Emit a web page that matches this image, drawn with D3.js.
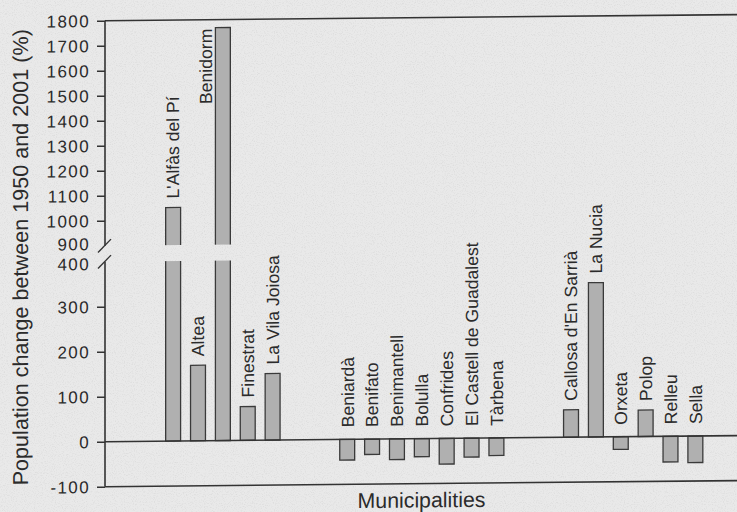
<!DOCTYPE html>
<html>
<head>
<meta charset="utf-8">
<script src="https://cdn.jsdelivr.net/npm/d3@7"></script>
<style>
  html, body { margin: 0; padding: 0; background: #e9e9e9; }
  svg { display: block; }
</style>
</head>
<body>
<svg id="chart" width="737" height="512"></svg>
<script>
// ---- data ----
const coastalTowns   = ["L'Alfàs del Pí", "Altea", "Benidorm", "Finestrat", "La Vila Joiosa"];
const coastalChange  = [1050, 168, 1768, 75, 148];
const interiorTowns  = ["Beniardà", "Benifato", "Benimantell", "Bolulla", "Confrides", "El Castell de Guadalest", "Tàrbena"];
const interiorChange = [-46, -34, -46, -40, -57, -42, -39];
const otherTowns     = ["Callosa d'En Sarrià", "La Nucia", "Orxeta", "Polop", "Relleu", "Sella"];
const otherChange    = [61, 343, -28, 59, -57, -59];
const upperTickLabels = [900, 1000, 1100, 1200, 1300, 1400, 1500, 1600, 1700, 1800];
const lowerTickLabels = [-100, 0, 100, 200, 300, 400];
const yTitle = "Population change between 1950 and 2001 (%)";
const xTitle = "Municipalities";

// ---- build records and slot domain (two empty slots between groups) ----
const groups = [[coastalTowns, coastalChange], [interiorTowns, interiorChange], [otherTowns, otherChange]];
const records = [];
const slots = [];
groups.forEach(([names, vals], gi) => {
  if (gi > 0) { slots.push("_gap" + gi + "a", "_gap" + gi + "b"); }
  names.forEach((n, i) => { slots.push(n); records.push({ name: n, value: vals[i] }); });
});

const W = 737, H = 512;
const FONT = "'Liberation Sans', Arial, Helvetica, sans-serif";
const INK = "#2b2b2b";
const svg = d3.select("#chart").style("font-family", FONT);

// paper background with light grain
const defs = svg.append("defs");
const flt = defs.append("filter").attr("id", "grain").attr("x", 0).attr("y", 0).attr("width", 1).attr("height", 1);
flt.append("feTurbulence").attr("type", "fractalNoise").attr("baseFrequency", 0.9).attr("numOctaves", 2).attr("seed", 3).attr("result", "n");
flt.append("feColorMatrix").attr("in", "n").attr("type", "matrix")
  .attr("values", "0 0 0 0 0  0 0 0 0 0  0 0 0 0 0  0 0 0 -1.4 0.75");
svg.append("rect").attr("width", W).attr("height", H).attr("fill", "#e9e9e9");
svg.append("rect").attr("width", W).attr("height", H).attr("fill", "#000").attr("opacity", 0.09).attr("filter", "url(#grain)");

// the scan is slightly skewed: horizontal lines rise to the right
const g = svg.append("g").attr("transform", "translate(0,1) skewY(-0.55)");

// ---- scales ----
const axisX = 105;
const x = d3.scaleBand().domain(slots).range([160.7, 707.8]).paddingInner(0.4).paddingOuter(0.2);
const yUpper = d3.scaleLinear().domain([900, 1800]).range([245.7, 20.7]);
const yLower = d3.scaleLinear().domain([-100, 400]).range([486.7, 261.7]);

// clip regions for the two axis segments
defs.append("clipPath").attr("id", "clipUpper").append("rect")
  .attr("x", axisX).attr("width", W).attr("y", yUpper(1800)).attr("height", yUpper(900) - yUpper(1800));
defs.append("clipPath").attr("id", "clipLower").append("rect")
  .attr("x", axisX).attr("width", W).attr("y", yLower(400)).attr("height", yLower(-100) - yLower(400));

const barFill = "#b0b0b0", barStroke = "#3a3a3a";

// lower segment bars
g.append("g").attr("clip-path", "url(#clipLower)")
  .selectAll("rect").data(records).join("rect")
  .attr("x", d => x(d.name))
  .attr("width", x.bandwidth())
  .attr("y", d => d.value >= 0 ? yLower(d.value) : yLower(0))
  .attr("height", d => Math.abs(yLower(d.value) - yLower(0)))
  .attr("fill", barFill).attr("stroke", barStroke).attr("stroke-width", 1.3);

// upper segment bars (only values above the break)
g.append("g").attr("clip-path", "url(#clipUpper)")
  .selectAll("rect").data(records.filter(d => d.value > 900)).join("rect")
  .attr("x", d => x(d.name))
  .attr("width", x.bandwidth())
  .attr("y", d => yUpper(d.value))
  .attr("height", d => yUpper(0) - yUpper(d.value))
  .attr("fill", barFill).attr("stroke", barStroke).attr("stroke-width", 1.3);

// ---- horizontal lines: frame top, zero line, bottom ----
const hl = g.append("g").attr("stroke", "#333").attr("stroke-width", 1.6);
[yUpper(1800), yLower(0), yLower(-100)].forEach(yy => {
  hl.append("line").attr("x1", axisX).attr("x2", W + 10).attr("y1", yy).attr("y2", yy);
});

// ---- y axes ----
function styleAxis(sel) {
  sel.select(".domain").remove();
  sel.selectAll(".tick line").attr("stroke", "#333").attr("stroke-width", 1.6);
  sel.selectAll(".tick text").attr("fill", INK).style("font-family", FONT)
    .style("font-size", "17px").style("letter-spacing", "1.4px")
    .attr("dy", d => d === 900 ? "0.22em" : d === 400 ? "0.46em" : "0.34em");
  sel.selectAll(".tick").filter(d => d === 900 || d === 400).select("line").remove();
}
const fmt = d => String(d);
g.append("g").attr("transform", `translate(${axisX},0)`)
  .call(d3.axisLeft(yUpper).tickValues(upperTickLabels).tickSize(8).tickPadding(7).tickFormat(fmt))
  .call(styleAxis);
g.append("g").attr("transform", `translate(${axisX},0)`)
  .call(d3.axisLeft(yLower).tickValues(lowerTickLabels).tickSize(8).tickPadding(7).tickFormat(fmt))
  .call(styleAxis);

// axis spine segments
const sp = g.append("g").attr("stroke", "#333").attr("stroke-width", 1.6);
sp.append("line").attr("x1", axisX).attr("x2", axisX).attr("y1", yUpper(1800)).attr("y2", yUpper(900));
sp.append("line").attr("x1", axisX).attr("x2", axisX).attr("y1", yLower(400)).attr("y2", yLower(-100));
// break slashes
[yUpper(900), yLower(400)].forEach(yy => {
  sp.append("line").attr("x1", axisX - 7).attr("y1", yy + 6.8).attr("x2", axisX + 6).attr("y2", yy - 6.5).attr("stroke-width", 1.4);
});

// ---- bar labels ----
const labels = g.append("g").selectAll("text").data(records).join("text")
  .attr("fill", INK).style("font-size", "17.6px")
  .attr("dy", "0.36em")
  .text(d => d.name);
labels.each(function(d) {
  const cx = x(d.name) + x.bandwidth() / 2;
  const topY = d.value >= 0 ? (d.value > 900 ? yUpper(d.value) : yLower(d.value)) : yLower(0);
  const start = d.value >= 0 ? topY - 9 : topY - 12;
  const len = this.getComputedTextLength();
  const t = d3.select(this);
  if (start - len < yUpper(1800) + 2) {
    // no room above: put the label beside the bar, aligned with its top
    t.attr("text-anchor", "end")
     .attr("transform", `translate(${x(d.name) - x.bandwidth() * 0.64},${topY + 1}) rotate(-90)`);
  } else {
    t.attr("text-anchor", "start")
     .attr("transform", `translate(${cx},${start}) rotate(-90)`);
  }
});

// ---- axis titles ----
g.append("text")
  .attr("transform", `translate(28,256.5) rotate(-90)`)
  .attr("text-anchor", "middle")
  .attr("fill", INK).style("font-size", "21.6px")
  .text(yTitle);
g.append("text")
  .attr("x", 421.5).attr("y", 510.5)
  .attr("text-anchor", "middle")
  .attr("fill", INK).style("font-size", "21.3px")
  .text(xTitle);
</script>
</body>
</html>
